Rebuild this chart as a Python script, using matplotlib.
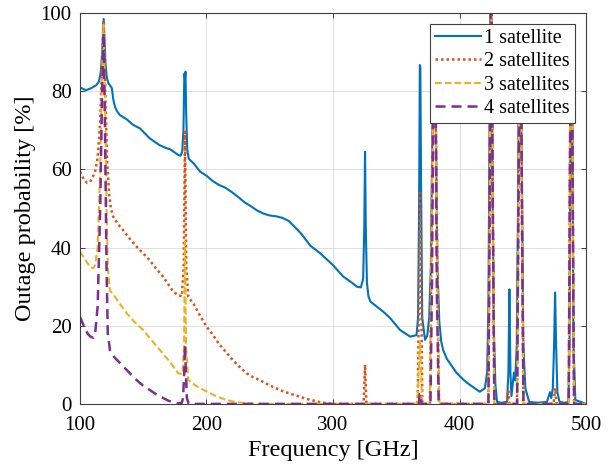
import matplotlib
matplotlib.use("Agg")
import matplotlib.pyplot as plt

plt.rcParams["font.family"] = ["Liberation Serif", "DejaVu Serif"]

labels = ["1 satellite", "2 satellites", "3 satellites", "4 satellites"]
colors = ["#0072BD", "#D95319", "#EDB120", "#7E2F8E"]

# 1 satellite
f1 = [100, 103, 105, 109, 113, 115, 116.5, 117.6, 118.3, 118.75, 119.3, 120.2, 121.2,
      122.5, 124, 125.2, 126.3, 127.7, 129.5, 131.6, 134, 137, 142, 147.4, 152, 155,
      158, 163, 168.5, 171, 175, 177.7, 179.5, 180.8, 181.8, 182.5, 183, 183.4, 183.9,
      184.8, 186, 187, 190, 195, 200, 205, 210, 215, 220, 226, 230, 235, 240, 245, 250,
      255, 260, 265, 270, 275, 282, 290, 300, 308, 315, 318.8, 322, 323.8, 324.7, 325.3,
      325.9, 326.8, 328, 329.5, 334.5, 340, 345, 353, 361, 366, 367.2, 368, 368.6, 369,
      369.6, 370.5, 372.7, 374.5, 376, 377.3, 378.5, 379.4, 380.4, 381.4, 382.5, 384,
      385.5, 387, 390, 397.7, 403, 408, 412, 416, 420, 421.8, 422.8, 423.7, 424.3, 425.2,
      426, 427, 428.3, 429.6, 433, 437.5, 438.6, 439.4, 440.2, 441, 442, 443, 444, 445.2,
      446.2, 447, 448.2, 449.2, 450.4, 452, 455, 462, 469, 470.5, 471.5, 472.5, 473.7,
      474.7, 475.5, 476.3, 477.3, 479, 483, 486, 486.9, 487.6, 488.4, 489.2, 490, 491.5,
      500]
p1 = [81, 80.5, 80.3, 80.8, 81.6, 82.5, 85, 90, 95, 98.5, 94, 87, 83.5,
      82, 81.4, 80.8, 78, 76, 74.8, 73.9, 73.4, 72.8, 71.4, 70.5, 69, 68,
      67.3, 66.2, 65.4, 65.2, 64.3, 63.7, 63.5, 64.5, 70, 84.5, 83.5, 85, 75,
      65, 62.8, 62.4, 61.5, 59.4, 58.4, 57, 56, 55.3, 54.2, 52.7, 51.6, 50.6, 49.5, 48.7, 48.2,
      48, 47.6, 46.8, 45.2, 43.5, 40.5, 38.5, 35.5, 32.6, 31, 30, 29.8, 32, 45, 64.5,
      45, 31, 27.5, 26.2, 24.9, 23.5, 22, 18.9, 17.2, 17.6, 22, 50, 86.7, 86.2,
      55, 22, 16.4, 17.5, 22, 35, 68, 94, 94, 68, 35, 21,
      16, 13.8, 11.5, 7.9, 6.2, 4.9, 4, 3.1, 4, 8, 25, 70, 100, 100,
      60, 20, 5, 0.5, 0.3, 0.5, 8, 29.3, 8, 2, 5, 8, 6, 15,
      50, 93, 93, 60, 15, 4, 0.5, 0.3, 0.5, 2, 3, 1.5, 4,
      15, 28.5, 15, 3, 0.5, 0.3, 0.5, 15, 68, 93, 68, 15, 1,
      0]

# 2 satellites
f2 = [100, 103, 105.5, 108, 110, 112, 114, 116, 117.5, 118.7, 120, 121.5, 123, 124.5,
      126.3, 130, 134, 140, 144.8, 150, 155, 160, 165.6, 170, 173.8, 178, 180.5, 182,
      183, 184, 185.6, 190, 195, 200, 205, 210, 216, 220, 225, 231.8, 237, 242, 250,
      260, 270, 280, 290, 300, 324.2, 325.3, 326.4, 366.9, 367.8, 368.8, 369.8, 370.6,
      376.6, 377.8, 379.4, 380.6, 382.2, 383.8, 422.8, 423.8, 424.5, 425.3, 426.3,
      427.5, 437.3, 438.5, 439.6, 445.4, 446.5, 447.5, 448.5, 449.5, 450.5, 474.3,
      475.5, 476.7, 486.3, 487.2, 488, 488.8, 489.7, 490.5, 500]
p2 = [59.4, 57.5, 56.6, 56.8, 58, 59.5, 63, 72, 88, 98, 80, 62, 54, 50,
      47.9, 46, 44.5, 42, 40.2, 38.5, 36.8, 34.7, 32.6, 30.5, 28.7, 27.8, 27.5, 35,
      69.6, 35, 27.4, 25.5, 22.5, 19.8, 17.7, 15.3, 13, 11.5, 9.8, 7.8, 6.8, 6.1, 4.7,
      3.3, 2.2, 1.2, 0.4, 0, 0, 10, 0, 0, 25, 54, 25, 0,
      0, 40, 94, 94, 40, 0, 0, 50, 100, 100, 50,
      0, 0, 3.5, 0, 0, 50, 93, 93, 40, 0, 0,
      4, 0, 0, 60, 93, 93, 40, 0, 0]

# 3 satellites
f3 = [100, 103, 106, 108, 110.5, 112, 114, 116, 117.5, 118.7, 120, 121, 122, 123.7,
      127.7, 132, 136.9, 143, 150, 156, 163.2, 167, 171, 174.5, 177.7, 181, 182.3, 183,
      183.8, 185.6, 190, 194.9, 200, 208, 215, 221, 230, 240, 366.8, 367.6, 368.6,
      369.6, 370.5, 376.5, 377.5, 379.5, 380.8, 382.5, 384, 422.8, 423.8, 424.5, 425.3,
      426.3, 427.5, 445.5, 446.5, 447.5, 448.5, 449.5, 450.5, 486.3, 487.2, 488, 488.8,
      489.7, 490.5, 500]
p3 = [39, 37.5, 36, 35, 34.7, 35.5, 40, 60, 85, 97, 75, 50, 35, 29,
      27.4, 25.4, 23.2, 21, 18.9, 16.5, 13.8, 12.3, 10.8, 9.2, 7.8, 7.7, 15, 41.5,
      15, 6.1, 5, 4, 3.2, 1.9, 1.1, 0.6, 0.2, 0, 0, 8, 15.6,
      8, 0, 0, 30, 94, 94, 30, 0, 0, 50, 100, 100,
      50, 0, 0, 50, 93, 93, 40, 0, 0, 60, 93, 93,
      40, 0, 0]

# 4 satellites
f4 = [100, 103, 106, 108, 110.5, 112, 114, 116, 117.5, 118.7, 119.8, 121, 122, 123.7,
      127, 133, 139, 144.8, 150, 155, 160, 165.8, 170, 174, 178, 180.5, 181.5, 182.4,
      183, 183.7, 184.5, 186, 367.8, 368.5, 369.3, 370, 377, 378.2, 379.6, 380.8, 382,
      383.5, 422.8, 423.8, 424.5, 425.3, 426.3, 427.5, 445.5, 446.5, 447.5, 448.5,
      449.5, 450.5, 486.3, 487.2, 488, 488.8, 489.7, 490.5, 500]
p4 = [22.3, 20, 18, 17.3, 16.9, 18, 25, 50, 80, 95, 70, 35, 18, 13.8,
      12, 10, 8, 6.1, 4.6, 3.6, 2.5, 1.5, 0.8, 0.4, 0.1, 0.3, 1.5, 8,
      15, 8, 1.5, 0, 0, 2.5, 2.5, 0, 0, 30, 94, 94, 30,
      0, 0, 50, 100, 100, 50, 0, 0, 50, 93, 93,
      40, 0, 0, 60, 93, 93, 40, 0, 0]

fig = plt.figure(figsize=(6.15, 4.68), dpi=100)
ax = fig.add_axes([0.130, 0.137, 0.823, 0.835])

ax.plot(f1, p1, color=colors[0], lw=1.5, label=labels[0])
ax.plot(f2, p2, color=colors[1], lw=1.8, linestyle=(0, (1, 1.2)), label=labels[1])
ax.plot(f3, p3, color=colors[2], lw=1.5, linestyle=(0, (3.2, 1.5)), label=labels[2])
ax.plot(f4, p4, color=colors[3], lw=1.8, linestyle=(0, (4, 2.4)), label=labels[3])

ax.set_xlim(100, 500)
ax.set_ylim(0, 100)
ax.set_xticks([100, 200, 300, 400, 500])
ax.set_yticks([0, 20, 40, 60, 80, 100])
ax.grid(True, color="#dedede", lw=0.7)
ax.set_axisbelow(True)
ax.tick_params(direction="in", top=True, right=True, length=3.5, width=0.7,
               color="#404040", labelsize=15)
ax.tick_params(axis="x", pad=9)
ax.tick_params(axis="y", pad=6)
for s in ax.spines.values():
    s.set_color("#404040")
    s.set_linewidth(0.8)

ax.set_xlabel("Frequency [GHz]", fontsize=17.5, labelpad=3)
ax.set_ylabel("Outage probability [%]", fontsize=17.5, labelpad=3)

leg = ax.legend(loc="upper right", fontsize=14.5, fancybox=False, framealpha=1,
                edgecolor="#404040", borderpad=0.25, labelspacing=0.2,
                handlelength=2.3, handletextpad=0.15, borderaxespad=0.55)
leg.get_frame().set_linewidth(0.8)

fig.savefig("out.png", dpi=100)
